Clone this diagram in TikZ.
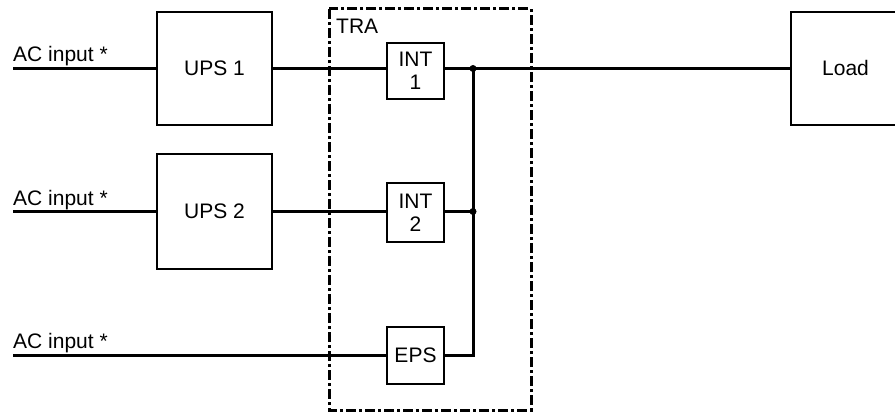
\documentclass[tikz,border=0pt]{standalone}
\usepackage{fontspec}
\setmainfont{Liberation Sans}
\begin{document}
\begin{tikzpicture}[x=1pt,y=-1pt,
  box/.style={draw,line width=1.6pt,inner sep=0pt,outer sep=0pt,align=center,font=\fontsize{21}{23}\selectfont},
  wire/.style={line width=3pt},
  lbl/.style={anchor=base west,inner sep=0pt,font=\fontsize{21}{23}\selectfont},
  tra/.style={line width=3pt,dash pattern=on 10pt off 3pt on 3pt off 3pt},
  dot/.style={circle,fill,inner sep=0pt,minimum size=7pt}]
\clip (0,0) rectangle (895,412);
\fill[white] (0,0) rectangle (895,412);
% boxes
\node[box,minimum width=115pt,minimum height=113pt] (ups1) at (214.5,68.5) {UPS 1};
\node[box,minimum width=115pt,minimum height=115pt] (ups2) at (214.5,211.5) {UPS 2};
\node[box,minimum width=57pt,minimum height=56pt] (int1) at (415.5,71) {INT\\1};
\node[box,minimum width=57pt,minimum height=59pt] (int2) at (415.5,212.5) {INT\\2};
\node[box,minimum width=57pt,minimum height=57pt] (eps) at (415.5,355.5) {EPS};
\node[box,minimum width=140pt,minimum height=113pt,text width=140pt] (load) at (861,68.5) {};
\node[lbl] (loadtxt) at (822,75.5) {Load};
% TRA frame
\coordinate (traA) at (329,9);
\coordinate (traB) at (531,410);
\draw[tra] (traA) rectangle (traB);
\node[lbl] (tralbl) at (336,34) {TRA};
% inputs
\coordinate (a1) at (13,68.5);
\coordinate (a2) at (13,211.5);
\coordinate (a3) at (13,355.5);
\node[lbl] (t1) at (13,62) {AC input *};
\node[lbl] (t2) at (13,205) {AC input *};
\node[lbl] (t3) at (13,348.5) {AC input *};
\draw[wire] (a1) -- (ups1.west);
\draw[wire] (a2) -- (ups2.west);
\draw[wire] (a3) -- (a3 -| eps.west);
\draw[wire] (ups1.east) -- (ups1.east -| int1.west);
\draw[wire] (ups2.east) -- (ups2.east -| int2.west);
% bus
\coordinate (j1) at (473,68.5);
\coordinate (j2) at (473,211.5);
\coordinate (j3) at (473,355.5);
\draw[wire] (j1 -| int1.east) -- (j1 -| load.west);
\draw[wire] (j2 -| int2.east) -- (j2);
\draw[wire] (j3 -| eps.east) -- (j3) -- (j1);
\node[dot] (d1) at (j1) {};
\node[dot] (d2) at (j2) {};
\end{tikzpicture}
\end{document}
